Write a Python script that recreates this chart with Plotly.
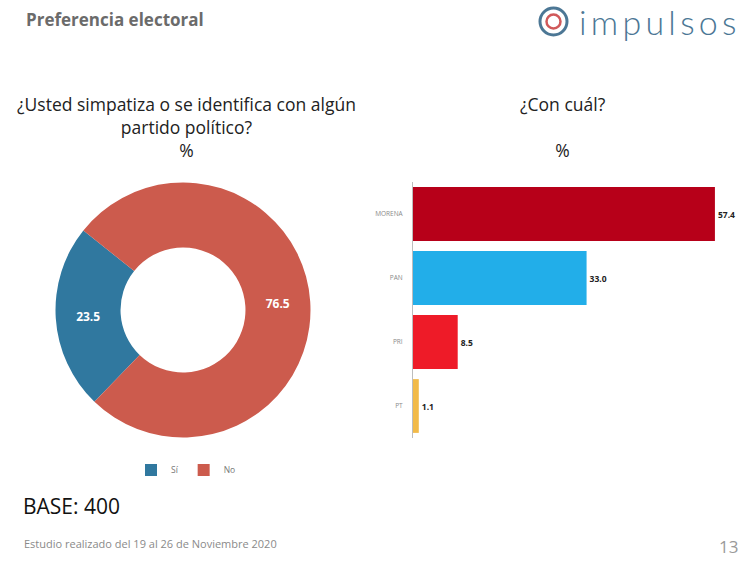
import plotly.graph_objects as go

# ---- data ----
pie_labels = ["Sí", "No"]
pie_values = [23.5, 76.5]
pie_colors = ["#30789F", "#CC5B4D"]

parties = ["MORENA", "PAN", "PRI", "PT"]
party_values = [57.4, 33.0, 8.5, 1.1]
party_colors = ["#B70019", "#22AEE9", "#EE1B28", "#F2BA48"]

W, H = 750, 562

def px(x):
    return x / W

def py(y):
    return 1 - y / H

fig = go.Figure()

fig.add_trace(go.Pie(
    labels=pie_labels,
    values=pie_values,
    hole=0.49,
    sort=False,
    direction="clockwise",
    rotation=224,
    marker=dict(colors=pie_colors, line=dict(width=0)),
    texttemplate="%{value:.1f}",
    textposition="inside",
    insidetextorientation="horizontal",
    textfont=dict(family="Open Sans", size=12, color="white", weight="bold"),
    domain=dict(x=[px(55.5), px(310.5)], y=[py(437.5), py(182.5)]),
    showlegend=True,
    hoverinfo="label+value",
))

fig.add_trace(go.Bar(
    x=party_values,
    y=parties,
    orientation="h",
    marker=dict(color=party_colors, line=dict(width=0)),
    text=[f"{v:.1f}" for v in party_values],
    textposition="outside",
    cliponaxis=False,
    textfont=dict(family="Open Sans", size=8.5, color="#222222", weight="bold"),
    showlegend=False,
    xaxis="x", yaxis="y",
))

fig.update_layout(
    width=W, height=H,
    margin=dict(l=0, r=0, t=0, b=0),
    paper_bgcolor="white",
    plot_bgcolor="white",
    bargap=0.16,
    xaxis=dict(domain=[px(413), px(740)], range=[0, (740 - 413) / 5.26],
               visible=False, fixedrange=True),
    yaxis=dict(domain=[py(438), py(182)], autorange="reversed",
               showline=True, linecolor="#bdbdbd", linewidth=1,
               showgrid=False, zeroline=False, ticks="",
               ticklabelstandoff=8,
               tickfont=dict(family="Open Sans", size=6.5, color="#8a8a8a")),
    legend=dict(orientation="h", x=px(186), xanchor="center", y=py(470), yanchor="middle",
                font=dict(family="Open Sans", size=8.5, color="#777777"),
                itemwidth=30, bgcolor="rgba(0,0,0,0)"),
    font=dict(family="Open Sans"),
)

thin = "\u2009"
ann = []
ann.append(dict(text="<b>Preferencia electoral</b>", x=px(24), y=py(20), xanchor="left", yanchor="middle",
                font=dict(family="Open Sans", size=17, color="#6b6b6b")))
ann.append(dict(text=thin.join("impulsos"), x=px(739), y=py(22), xanchor="right", yanchor="middle",
                font=dict(family="Lato", size=34, color="#4C7795", weight=300)))
ann.append(dict(text="¿Usted simpatiza o se identifica con algún<br>partido político?<br>%",
                x=px(186), y=py(90), xanchor="center", yanchor="top", align="center",
                font=dict(family="Open Sans", size=17.5, color="#222222")))
ann.append(dict(text="¿Con cuál?<br> <br>%",
                x=px(563), y=py(90), xanchor="center", yanchor="top", align="center",
                font=dict(family="Open Sans", size=17.5, color="#222222")))
ann.append(dict(text="BASE: 400", x=px(21), y=py(506), xanchor="left", yanchor="middle",
                font=dict(family="Open Sans", size=21, color="#111111")))
ann.append(dict(text="Estudio realizado del 19 al 26 de Noviembre 2020", x=px(22), y=py(543),
                xanchor="left", yanchor="middle",
                font=dict(family="Open Sans", size=11, color="#8a8a8a")))
ann.append(dict(text="13", x=px(740), y=py(546), xanchor="right", yanchor="middle",
                font=dict(family="Open Sans", size=17, color="#9a9a9a")))
for a in ann:
    a.update(xref="paper", yref="paper", showarrow=False)
fig.update_layout(annotations=ann)

# logo icon rings
fig.add_shape(type="circle", xref="paper", yref="paper",
              x0=px(540), x1=px(567), y0=py(35), y1=py(8),
              line=dict(color="#4C7795", width=3))
fig.add_shape(type="circle", xref="paper", yref="paper",
              x0=px(546.5), x1=px(560.5), y0=py(28.5), y1=py(14.5),
              line=dict(color="#D0595A", width=2.5))

fig.write_html("out.html", config={"displayModeBar": False},
               post_script="document.body.style.margin='0px';")
